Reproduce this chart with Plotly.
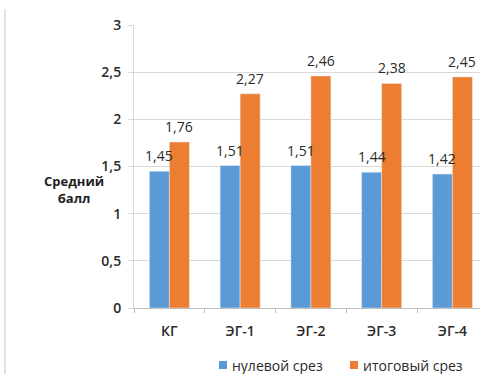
import plotly.graph_objects as go

categories = ["КГ", "ЭГ-1", "ЭГ-2", "ЭГ-3", "ЭГ-4"]
zero_cut = [1.45, 1.51, 1.51, 1.44, 1.42]
final_cut = [1.76, 2.27, 2.46, 2.38, 2.45]
series_names = ["нулевой срез", "итоговый срез"]
series_colors = ["#5B9BD5", "#ED7D31"]
y_ticks = [0, 0.5, 1, 1.5, 2, 2.5, 3]

def fmt(v):
    return f"{v:.2f}".replace(".", ",")

W, H = 480, 374
L, R, T, B = 134, 0, 25, 66
pw, ph = W - L - R, H - T - B
x_range = [-0.5, 4.39]
bargap = 0.434
unit_px = pw / (x_range[1] - x_range[0])
bar_px = unit_px * (1 - bargap) / 2

def px(x):
    return (x - L) / pw

def py(y):
    return (H - B - y) / ph

font = "'Open Sans', Lato, sans-serif"
txtc = "#2b2b2b"

fig = go.Figure()
annotations = []
for i, (vals, name, col) in enumerate(zip([zero_cut, final_cut], series_names, series_colors)):
    fig.add_trace(go.Bar(x=categories, y=vals, name=name, marker_color=col,
                         showlegend=False))
    shift = (i - 0.5) * bar_px
    for c, v in zip(categories, vals):
        annotations.append(dict(x=c, y=v, xref="x", yref="y", text=fmt(v),
                                showarrow=False, xanchor="center", yanchor="bottom",
                                xshift=shift, yshift=4,
                                font=dict(size=14, color=txtc, family=font)))

# legend (squares + labels)
legend_items = [(219, 230), (350, 361)]
shapes = []
for (sx, tx), name, col in zip(legend_items, series_names, series_colors):
    shapes.append(dict(type="rect", xref="paper", yref="paper",
                       x0=px(sx), x1=px(sx + 8), y0=py(369), y1=py(361),
                       fillcolor=col, line=dict(width=0)))
    annotations.append(dict(x=px(tx), y=py(365), xref="paper", yref="paper",
                            text=name, showarrow=False, xanchor="left", yanchor="middle",
                            font=dict(size=14, color=txtc, family=font)))

annotations.append(dict(x=px(42), y=py(189), xref="paper", yref="paper",
                        text="<b>Средний</b><br><b>балл</b>", showarrow=False,
                        font=dict(size=13, color="#1e1e1e", family=font), align="center"))
shapes.append(dict(type="line", xref="paper", yref="paper", x0=px(5), x1=px(5),
                   y0=py(9), y1=py(374), line=dict(color="#E3E3E3", width=2)))

tick_font = dict(size=14, color=txtc, family=font, weight=600)

fig.update_layout(
    width=W, height=H,
    margin=dict(l=L, r=R, t=T, b=B, pad=0),
    paper_bgcolor="white", plot_bgcolor="white",
    barmode="group", bargap=bargap, bargroupgap=0,
    separators=", ",
    font=dict(family=font, size=14, color=txtc),
    showlegend=False,
    xaxis=dict(range=x_range, showgrid=False, showline=True, linecolor="#BFBFBF",
               ticks="outside", tickson="boundaries", ticklen=4, tickcolor="#BFBFBF",
               ticklabelstandoff=10, tickfont=tick_font),
    yaxis=dict(range=[0, 3], tickvals=y_ticks, showgrid=True, gridcolor="#D9D9D9",
               showline=True, linecolor="#D9D9D9", ticks="outside", ticklen=5,
               tickcolor="#D9D9D9", zeroline=False, ticklabelstandoff=4,
               tickfont=tick_font),
    annotations=annotations,
    shapes=shapes,
)

fig.write_html("out.html")
